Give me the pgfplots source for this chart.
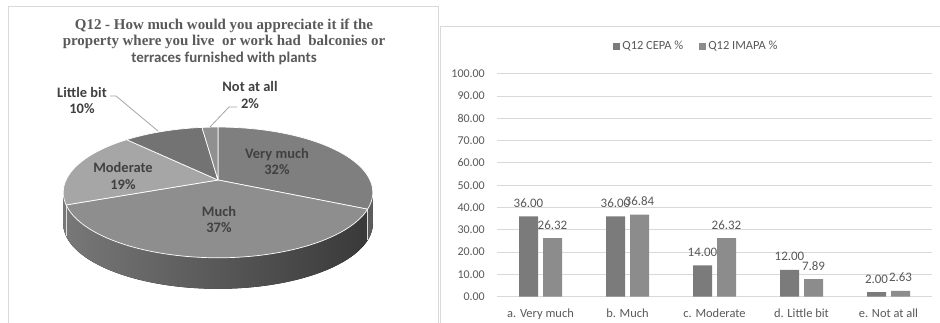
\documentclass[border=0pt]{standalone}
\usepackage{pgfplots}
\pgfplotsset{compat=1.18}
\usepackage{pgfplotstable}
\usepackage{fontspec}
\setmainfont{Carlito}
\newfontfamily\titleserif{Liberation Serif}

\definecolor{txt}{HTML}{595959}
\definecolor{lbl}{HTML}{404040}
\definecolor{gridc}{HTML}{D9D9D9}
\definecolor{frame}{HTML}{D9D9D9}
\definecolor{barA}{HTML}{7B7B7B}
\definecolor{barB}{HTML}{8C8C8C}
\definecolor{sVery}{HTML}{7F7F7F}
\definecolor{sMuch}{HTML}{8E8E8E}
\definecolor{sMod}{HTML}{A6A6A6}
\definecolor{sLittle}{HTML}{737373}
\definecolor{sNot}{HTML}{909090}
\definecolor{wallL}{HTML}{787878}
\definecolor{wallM}{HTML}{5A5A5A}
\definecolor{wallR}{HTML}{383838}
\definecolor{wallV}{HTML}{5C5C5C}
\definecolor{leader}{HTML}{A6A6A6}

% Q12 answers, pie chart (percent)
\def\pieVery{32}
\def\pieMuch{37}
\def\pieMod{19}
\def\pieLittle{10}
\def\pieNot{2}

% Q12 answers, CEPA vs IMAPA (percent)
\pgfplotstableread{
idx cepa  imapa
0   36.00 26.32
1   36.00 36.84
2   14.00 26.32
3   12.00 7.89
4   2.00  2.63
}\qdata

% perspective pie geometry (bp): centre, radii, tilt, thickness
\def\pk{0.19}
\def\pR{152}
\def\pS{63}
\def\pvx{218}
\def\pvy{143}
\def\pdepth{31}
\pgfmathsetmacro\pYtop{\pS/(1+\pk)}
\pgfmathsetmacro\pYbot{-\pS/(1-\pk)}
\pgfmathsetmacro\pYc{(\pYtop+\pYbot)/2}
\pgfmathsetmacro\pry{(\pYtop-\pYbot)/2}
\pgfmathsetmacro\prx{\pR/sqrt(1-\pk*\pk)}
\pgfmathsetmacro\pcy{\pvy+\pYc}
\pgfmathsetmacro\pLx{\pvx-\prx}
\pgfmathsetmacro\pRx{\pvx+\prx}

% rim point of the tilted disc for a polar angle: position and ellipse parameter
\newcommand\piept[2]{%
  \pgfmathsetmacro\tmps{sin(#2)}%
  \pgfmathsetmacro\tmpd{1+\pk*\tmps}%
  \pgfmathsetmacro\tmpX{\pR*cos(#2)/\tmpd}%
  \pgfmathsetmacro\tmpY{\pS*\tmps/\tmpd}%
  \pgfmathsetmacro\tmpt{atan2((\tmpY-\pYc)/\pry,\tmpX/\prx)}%
  \pgfmathsetmacro\tmpt{\tmpt+360*round(((#2)-\tmpt)/360)}%
  \pgfmathsetmacro\tmpa{\pvx+\tmpX}\expandafter\xdef\csname px#1\endcsname{\tmpa}%
  \pgfmathsetmacro\tmpa{\pvy+\tmpY}\expandafter\xdef\csname py#1\endcsname{\tmpa}%
  \expandafter\xdef\csname pt#1\endcsname{\tmpt}}

\pgfmathsetmacro\thA{90}
\pgfmathsetmacro\thB{\thA-3.6*\pieVery}
\pgfmathsetmacro\thC{\thB-3.6*\pieMuch}
\pgfmathsetmacro\thD{\thC-3.6*\pieMod}
\pgfmathsetmacro\thE{\thD-3.6*\pieLittle}
\pgfmathsetmacro\thF{\thE-3.6*\pieNot}
\piept{A}{\thA}
\piept{B}{\thB}
\piept{C}{\thC}
\piept{D}{\thD}
\piept{E}{\thE}
\piept{F}{\thF}

\newcommand\pieslice[3]{%
  \filldraw[fill=#1, draw=white, line width=0.7bp, line join=round]
    (axis cs:\pvx,\pvy) -- (axis cs:\csname px#2\endcsname,\csname py#2\endcsname)
    arc[start angle=\csname pt#2\endcsname, end angle=\csname pt#3\endcsname,
        x radius=\prx bp, y radius=\pry bp] -- cycle;}

\begin{document}
\begin{tikzpicture}
\useasboundingbox (0,0) rectangle (940bp,323bp);
\fill[white] (0,0) rectangle (940bp,323bp);

% panel frames
\draw[frame, line width=1bp] (8.5bp,-3bp) rectangle (438.5bp,316.5bp);
\draw[frame, line width=1.2bp] (440.6bp,-3bp) rectangle (945bp,296.5bp);

% ---------- left: 3-D pie ----------
\begin{axis}[
  at={(0,0)}, anchor=south west,
  x=1bp, y=1bp, scale only axis,
  xmin=0, xmax=440, ymin=0, ymax=323,
  hide axis, clip=false,
]
% side wall
\fill[left color=wallL, middle color=wallM, right color=wallR]
  (axis cs:\pLx,\pcy) arc[start angle=180, end angle=360, x radius=\prx bp, y radius=\pry bp]
  -- ++(0bp,-\pdepth bp)
  arc[start angle=360, end angle=180, x radius=\prx bp, y radius=\pry bp] -- cycle;
\fill[wallV]
  (axis cs:\pxB,\pyB) arc[start angle=\ptB, end angle=0, x radius=\prx bp, y radius=\pry bp]
  -- ++(0bp,-\pdepth bp)
  arc[start angle=0, end angle=\ptB, x radius=\prx bp, y radius=\pry bp] -- cycle;
\draw[white!75!gray, line width=0.6bp] (axis cs:\pxB,\pyB) -- ++(0bp,-\pdepth bp);
\draw[white!75!gray, line width=0.6bp] (axis cs:\pxC,\pyC) -- ++(0bp,-\pdepth bp);
% top faces
\pieslice{sVery}{A}{B}
\pieslice{sMuch}{B}{C}
\pieslice{sMod}{C}{D}
\pieslice{sLittle}{D}{E}
\pieslice{sNot}{E}{F}
% leader lines
\draw[leader, line width=0.8bp] (axis cs:110,227) -- (axis cs:116,227) -- (axis cs:158,192);
\draw[leader, line width=0.8bp] (axis cs:237,216) -- (axis cs:229,216) -- (axis cs:210,196);
% slice labels
\begin{scope}[every node/.style={align=center, text=lbl, inner sep=0pt,
    font=\fontsize{14.5}{17}\selectfont\bfseries}]
\node at (axis cs:277,161.5) {Very much\\32\%};
\node at (axis cs:219,103.5) {Much\\37\%};
\node at (axis cs:123,147) {Moderate\\19\%};
\node at (axis cs:82,222.5) {Little bit\\10\%};
\node at (axis cs:250,228) {Not at all\\2\%};
\end{scope}
\end{axis}

% title
\node[align=center, text=txt, inner sep=0pt, font=\fontsize{15}{16.5}\selectfont\bfseries]
  at (224bp,281.5bp)
  {{\titleserif Q12 - How much would you appreciate it if the}\\
   {\titleserif property where you live~ or work had~ balconies or}\\
   terraces furnished with plants};

% ---------- right: grouped bars ----------
\begin{axis}[
  at={(497bp,26.3bp)}, anchor=south west,
  scale only axis, width=435bp, height=223bp,
  xmin=-0.5, xmax=4.5, ymin=0, ymax=100, enlargelimits=false,
  ybar=5bp, bar width=19bp,
  xtick={0,1,2,3,4},
  xticklabels={a. Very much, b. Much, c. Moderate, d. Little bit, e. Not at all},
  ytick={0,10,...,100},
  ymajorgrids, grid style={draw=gridc, line width=0.9bp},
  axis line style={draw=none},
  major tick length=0pt,
  tick label style={text=txt},
  yticklabel={\pgfmathprintnumber[fixed,fixed zerofill,precision=2,assume math mode=true]{\tick}},
  yticklabel style={font=\fontsize{12}{14}\selectfont, anchor=east, inner sep=0pt, xshift=-12bp},
  xticklabel style={font=\fontsize{12.5}{15}\selectfont, anchor=base, inner sep=0pt, yshift=-21bp},
  nodes near coords={\pgfmathprintnumber[fixed,fixed zerofill,precision=2,assume math mode=true]{\pgfplotspointmeta}},
  every node near coord/.append style={font=\fontsize{13}{15}\selectfont, text=txt,
    anchor=base, inner sep=0pt, yshift=9bp},
  legend style={at={(0.4586,1.124)}, anchor=center, draw=none, fill=none,
    legend columns=2, font=\fontsize{12.5}{15}\selectfont, text=txt,
    /tikz/every even column/.append style={column sep=14bp}},
  legend image code/.code={\fill[#1] (0bp,-3.5bp) rectangle (7bp,3.5bp);},
]
\addplot[fill=barA, draw=none] table[x=idx, y=cepa]{\qdata};
\addplot[fill=barB, draw=none] table[x=idx, y=imapa]{\qdata};
\legend{Q12 CEPA \%, Q12 IMAPA \%}
\end{axis}
\end{tikzpicture}
\end{document}
